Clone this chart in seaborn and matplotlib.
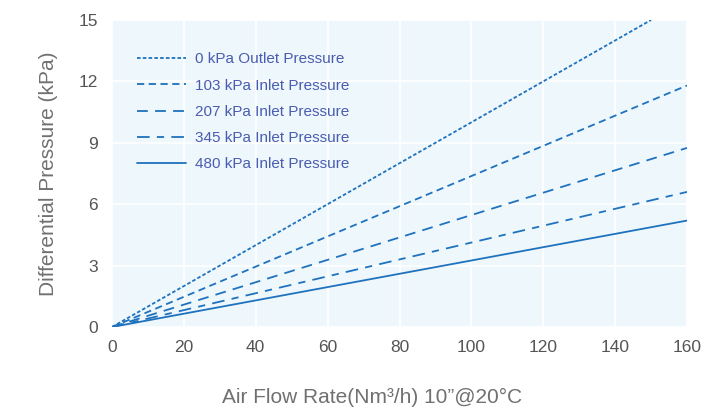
import matplotlib
matplotlib.use("Agg")
import matplotlib.pyplot as plt
import seaborn as sns
import pandas as pd

# Air flow rate (Nm3/h) and differential pressure (kPa) for each pressure condition
series_names = [
    "0 kPa Outlet Pressure",
    "103 kPa Inlet Pressure",
    "207 kPa Inlet Pressure",
    "345 kPa Inlet Pressure",
    "480 kPa Inlet Pressure",
]
flow_0 = [0, 150]
dp_0 = [0, 15.0]
flow_103 = [0, 160]
dp_103 = [0, 11.8]
flow_207 = [0, 160]
dp_207 = [0, 8.75]
flow_345 = [0, 160]
dp_345 = [0, 6.6]
flow_480 = [0, 160]
dp_480 = [0, 5.2]

x_ticks = [0, 20, 40, 60, 80, 100, 120, 140, 160]
y_ticks = [0, 3, 6, 9, 12, 15]

frames = []
for name, fx, dp in zip(series_names,
                        [flow_0, flow_103, flow_207, flow_345, flow_480],
                        [dp_0, dp_103, dp_207, dp_345, dp_480]):
    frames.append(pd.DataFrame({"flow": fx, "dp": dp, "series": name}))
df = pd.concat(frames, ignore_index=True)

sns.set_theme(style="white")
plt.rcParams["font.family"] = ["Liberation Sans", "DejaVu Sans"]

line_color = "#1f72bd"
dash_styles = {
    series_names[0]: (2, 1.2),
    series_names[1]: (4, 2.5),
    series_names[2]: (6, 4),
    series_names[3]: (7, 4, 4, 4),
    series_names[4]: "",
}

fig = plt.figure(figsize=(7.09, 4.09), dpi=100)
ax = fig.add_axes([112 / 709, 1 - 327 / 409, 575 / 709, 307 / 409])
ax.set_facecolor("#eef7fc")

sns.lineplot(data=df, x="flow", y="dp", style="series", dashes=dash_styles,
             color=line_color, linewidth=1.3, ax=ax, legend=True,
             estimator=None, sort=False)

ax.set_xlim(0, 160)
ax.set_ylim(0, 15)
ax.set_xticks(x_ticks)
ax.set_yticks(y_ticks)
ax.grid(True, color="white", linewidth=1.2)
for s in ax.spines.values():
    s.set_visible(False)
ax.tick_params(axis="both", length=0, labelsize=12.5, labelcolor="#555555")
ax.tick_params(axis="x", pad=9)
ax.tick_params(axis="y", pad=10)

ax.set_xlabel("")
ax.set_ylabel("Differential Pressure (kPa)", fontsize=15, color="#707070", labelpad=15)
fig.text(372 / 709, 1 - 397 / 409, "Air Flow Rate(Nm³/h) 10\u201d@20°C",
         ha="center", va="center", fontsize=15, color="#707070")

leg = ax.legend(loc="upper left", bbox_to_anchor=(0.02, 0.939), frameon=False,
                fontsize=11, handlelength=3.2, handletextpad=0.6, labelspacing=0.8,
                labelcolor="#4a5cb0")
for h in leg.get_lines():
    h.set_color(line_color)
    h.set_linewidth(1.3)

fig.savefig("out.png", dpi=100)
